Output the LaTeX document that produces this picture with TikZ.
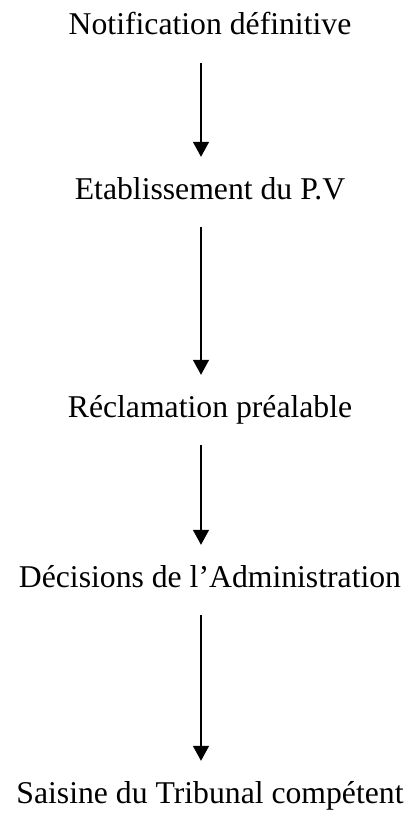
\documentclass[tikz,border=0pt]{standalone}
\usepackage{fontspec}
\setmainfont{Liberation Serif}
\usetikzlibrary{arrows.meta}
\usetikzlibrary{positioning}

\begin{document}
\begin{tikzpicture}[x=1pt, y=1pt,
  etape/.style={inner sep=0pt, anchor=base, text height=22pt, text depth=7pt,
    font=\fontsize{31.7}{38}\selectfont},
  fleche/.style={line width=1.6pt, -{Triangle[length=15pt, width=16pt]},
    shorten <=21pt, shorten >=20pt}]
  \useasboundingbox (0,0) rectangle (412,-816);

  \node[etape] (notif)  at (210,-35)  {Notification définitive};
  \node[etape] (pv)     at (210,-199) {Etablissement du P.V};
  \node[etape] (recl)   at (210,-417) {Réclamation préalable};
  \node[etape] (decis)  at (210,-587) {Décisions de l’Administration};
  \node[etape] (saisie) at (210,-803) {Saisine du Tribunal compétent};

  \draw[fleche] ([xshift=-9pt]notif.south) -- ([xshift=-9pt]pv.north);
  \draw[fleche] ([xshift=-9pt]pv.south)    -- ([xshift=-9pt]recl.north);
  \draw[fleche] ([xshift=-9pt]recl.south)  -- ([xshift=-9pt]decis.north);
  \draw[fleche] ([xshift=-9pt]decis.south) -- ([xshift=-9pt]saisie.north);
\end{tikzpicture}
\end{document}
